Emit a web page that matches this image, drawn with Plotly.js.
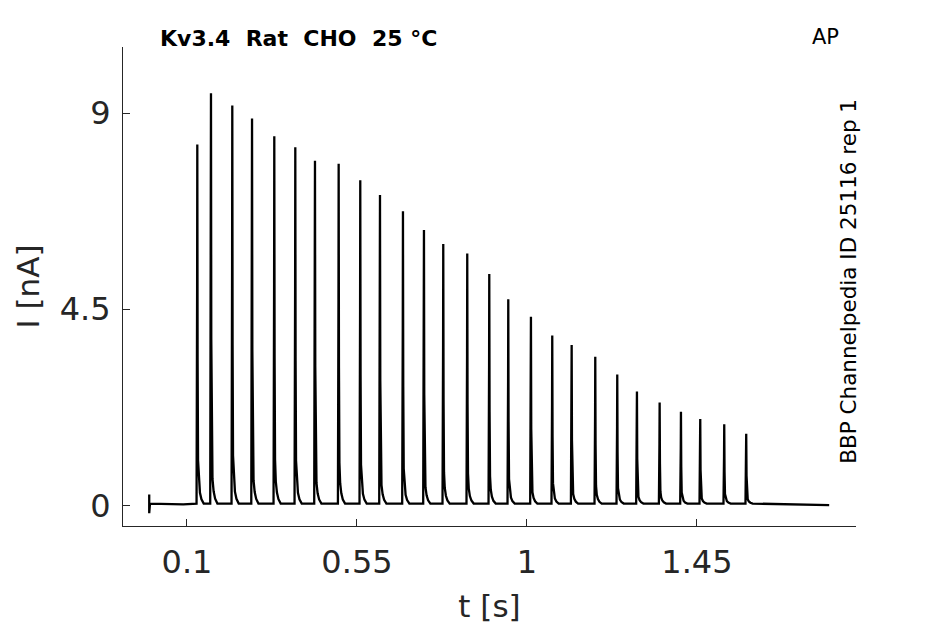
<!DOCTYPE html>
<html>
<head>
<meta charset="utf-8">
<script src="https://cdn.plot.ly/plotly-3.0.1.min.js"></script>
<style>html,body{margin:0;padding:0;background:#fff;}#chart{width:945px;height:624px;}</style>
</head>
<body>
<div id="chart"></div>
<script>
// Spike peak times (s) and peak currents (nA)
var spikeTimes = [0.1273, 0.1635, 0.2199, 0.2722, 0.3311, 0.3867, 0.4388, 0.5015, 0.5587,
  0.6109, 0.6717, 0.7273, 0.7784, 0.8419, 0.9002, 0.9505, 1.0105, 1.0669, 1.1183,
  1.1808, 1.2390, 1.2911, 1.3512, 1.4076, 1.4587, 1.5222, 1.5804];
var spikePeaks = [8.28, 9.46, 9.18, 8.88, 8.47, 8.22, 7.91, 7.84, 7.46,
  7.12, 6.75, 6.32, 6.00, 5.78, 5.31, 4.73, 4.33, 3.90, 3.68,
  3.41, 3.00, 2.61, 2.36, 2.15, 1.98, 1.86, 1.64];
// Spike waveform: offset from peak (s) and fraction of peak
var shapeOffsets = [-0.002, -0.0005, 0, 0.0008, 0.002, 0.004, 0.007, 0.011, 0.017];
var shapeFractions = [0, 0.6, 1, 0.4, 0.12, 0.06, 0.03, 0.012, 0];
// Baseline segments: start artefact and ends
var startTimes = [0, 0, 0, 0.002, 0.09];
var startValues = [0.04, 0.25, -0.18, 0.04, 0.02];
var endTimes = [1.65, 1.8];
var endValues = [0.03, 0.005];
var baseline = 0.04;

var xTickVals = [0.1, 0.55, 1, 1.45];
var xTickText = ['0.1', '0.55', '1', '1.45'];
var yTickVals = [0, 4.5, 9];
var yTickText = ['0', '4.5', '9'];

var xs = startTimes.slice();
var ys = startValues.slice();
for (var i = 0; i < spikeTimes.length; i++) {
  for (var k = 0; k < shapeOffsets.length; k++) {
    xs.push(spikeTimes[i] + shapeOffsets[k]);
    ys.push(baseline + (spikePeaks[i] - baseline) * shapeFractions[k]);
  }
}
xs = xs.concat(endTimes);
ys = ys.concat(endValues);

var font = 'DejaVu Sans, sans-serif';
var gray = '#262626';

var data = [{
  x: xs, y: ys, type: 'scatter', mode: 'lines',
  line: {color: '#000000', width: 2.3}, hoverinfo: 'skip'
}];

var axisCommon = {
  showline: true, linecolor: gray, linewidth: 1, mirror: false,
  showgrid: false, zeroline: false,
  ticks: 'inside', ticklen: 7, tickwidth: 1, tickcolor: gray,
  tickfont: {family: font, size: 32, color: gray},
  tickmode: 'array'
};

var layout = {
  width: 945, height: 624,
  margin: {l: 123, r: 89, t: 47, b: 98},
  paper_bgcolor: '#ffffff', plot_bgcolor: '#ffffff',
  showlegend: false,
  xaxis: Object.assign({}, axisCommon, {
    range: [-0.0694, 1.871], tickvals: xTickVals, ticktext: xTickText,
    ticklabelstandoff: 8,
    title: {text: 't [s]', font: {family: font, size: 31, color: gray}, standoff: 14}
  }),
  yaxis: Object.assign({}, axisCommon, {
    range: [-0.475, 10.52], tickvals: yTickVals, ticktext: yTickText,
    ticklabelstandoff: 5,
    title: {text: 'I [nA]', font: {family: font, size: 31, color: gray}, standoff: 10}
  }),
  annotations: [
    {text: '<b>Kv3.4  Rat  CHO  25 °C</b>', xref: 'paper', yref: 'paper',
     x: 0.0477, y: 1.017, xanchor: 'left', yanchor: 'middle', showarrow: false,
     font: {family: font, size: 22, color: '#000'}},
    {text: 'AP', xref: 'paper', yref: 'paper', x: 0.958, y: 1.02,
     xanchor: 'center', yanchor: 'middle', showarrow: false,
     font: {family: font, size: 21, color: '#000'}},
    {text: 'BBP Channelpedia ID 25116 rep 1', xref: 'paper', yref: 'paper',
     x: 0.9905, y: 0.51, xanchor: 'center', yanchor: 'middle', showarrow: false,
     textangle: -90, font: {family: font, size: 21.5, color: '#000'}}
  ]
};

Plotly.newPlot('chart', data, layout, {displayModeBar: false, staticPlot: true});
</script>
</body>
</html>
